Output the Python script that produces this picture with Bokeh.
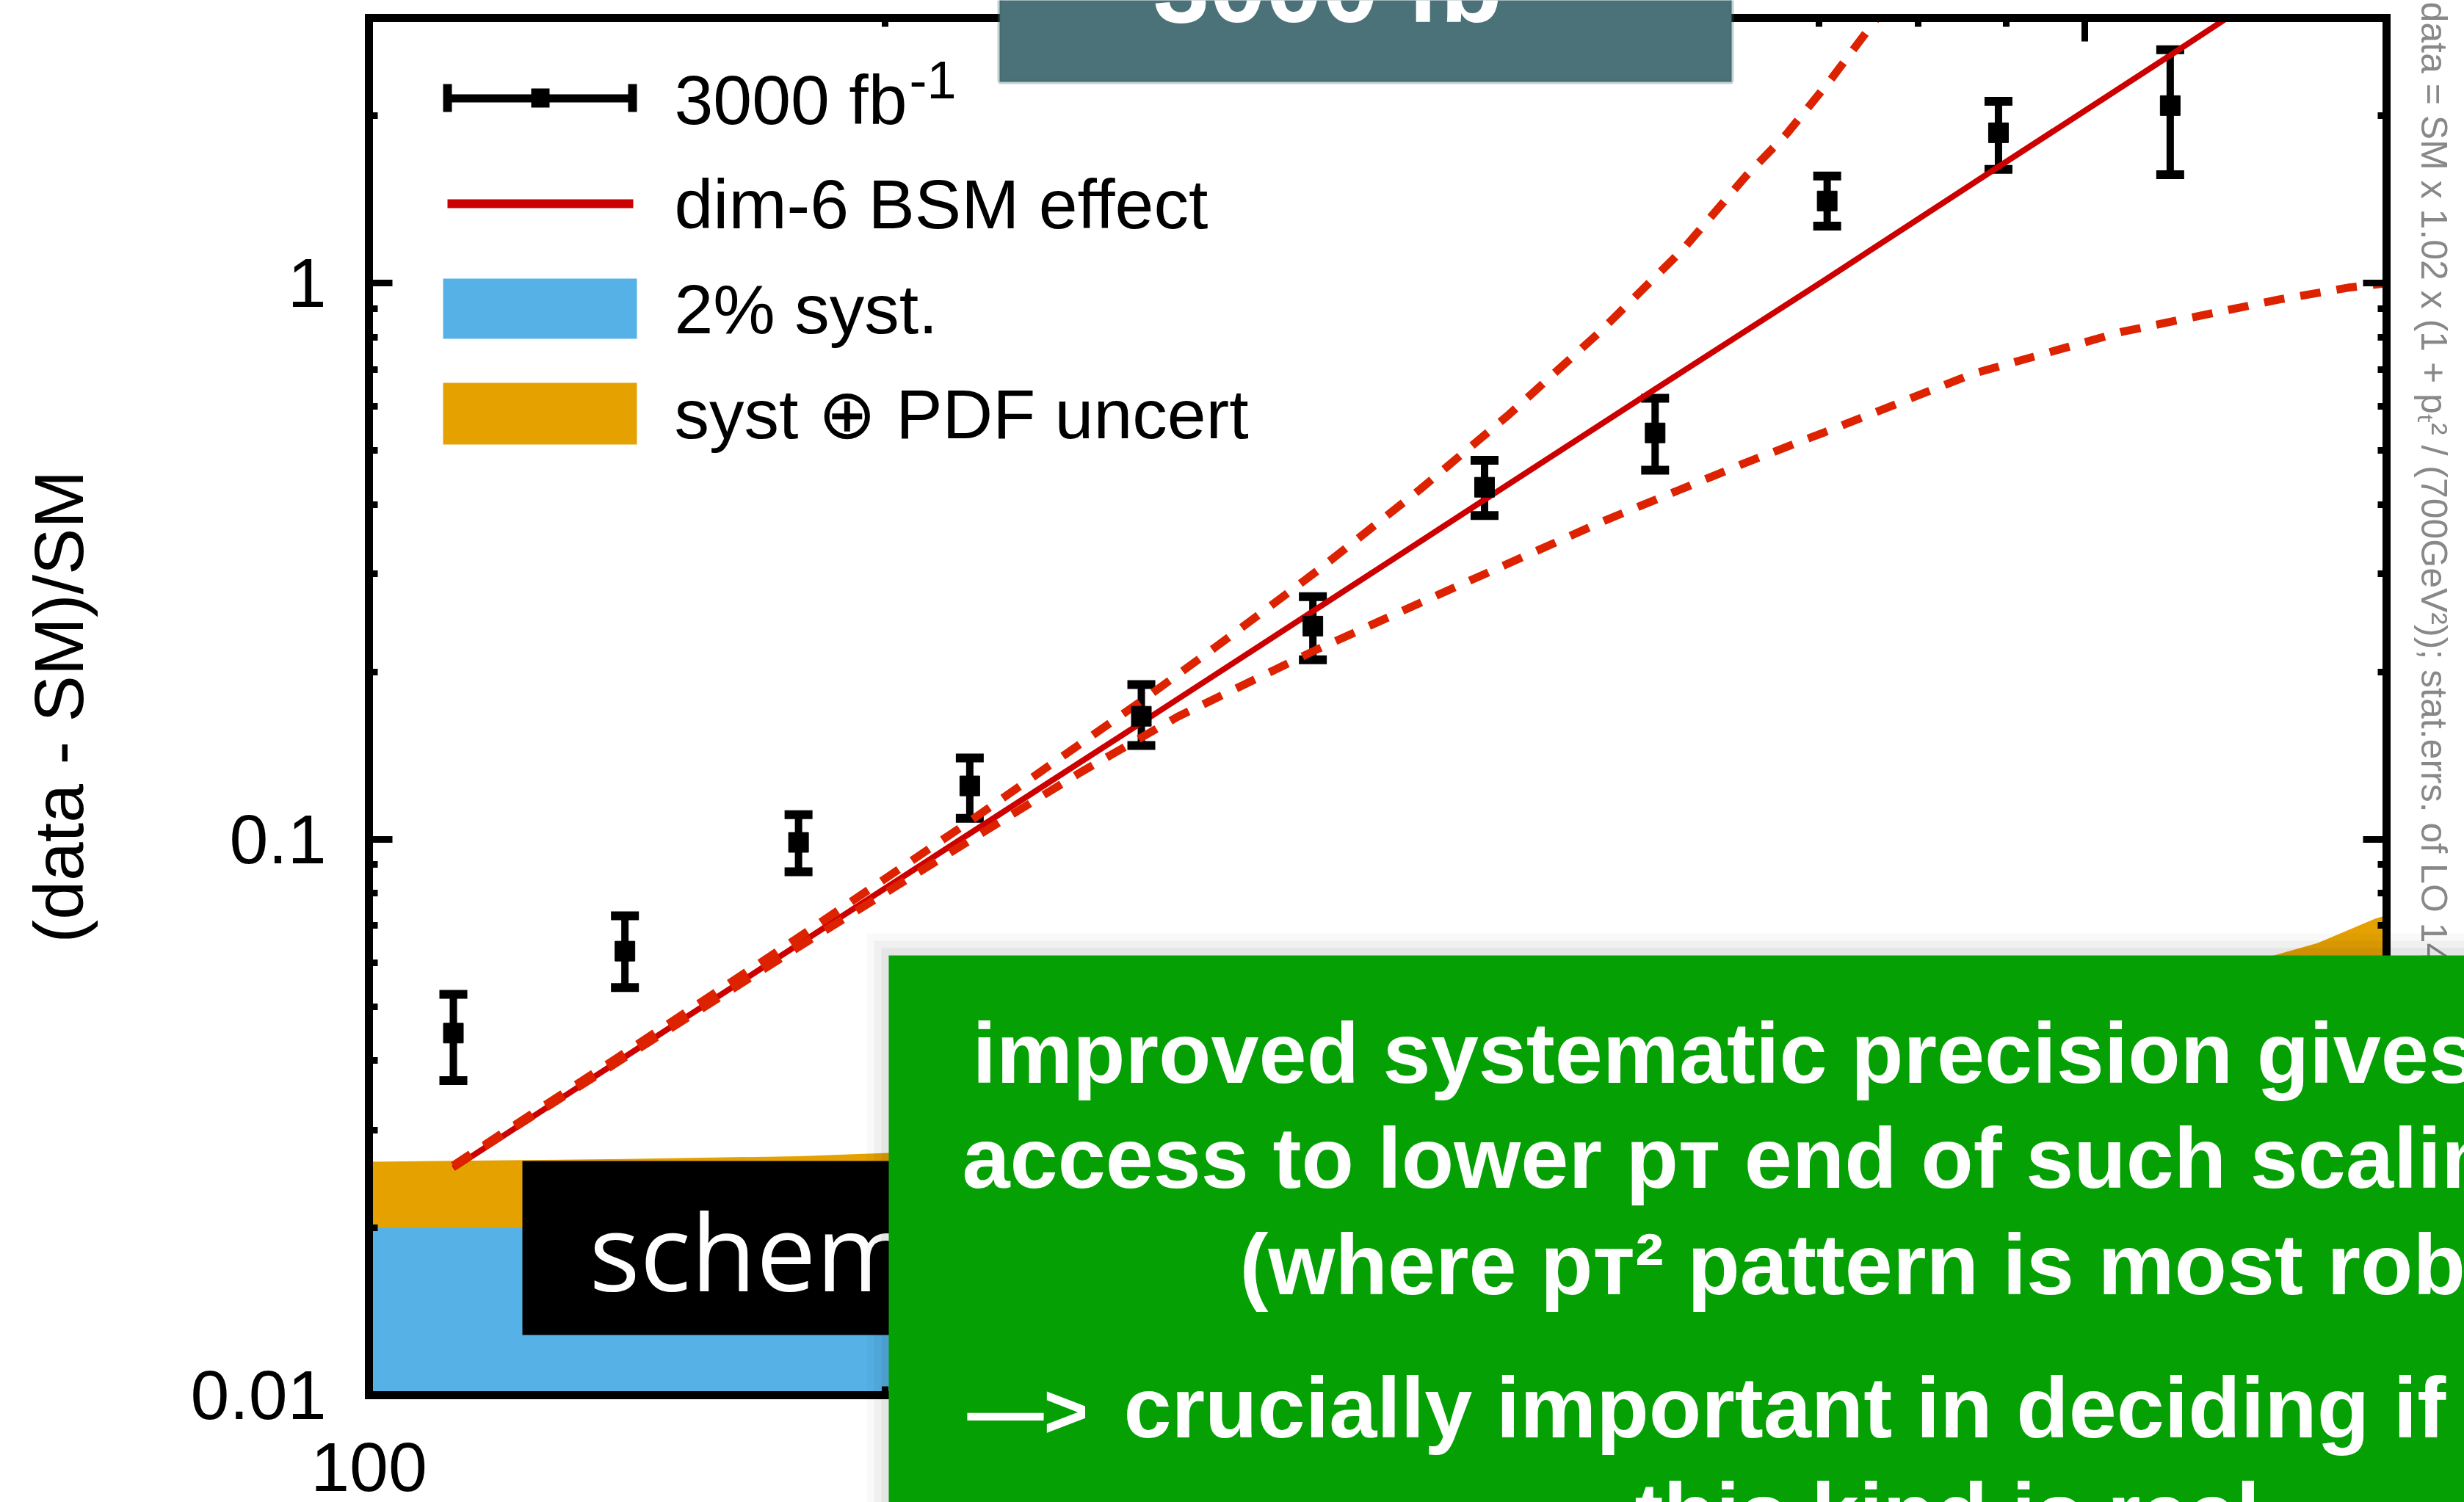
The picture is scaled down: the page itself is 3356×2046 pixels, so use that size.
import math
from bokeh.plotting import figure
from bokeh.models import (FixedTicker, LogAxis, BoxAnnotation, Label, Whisker,
                          TeeHead, ColumnDataSource, Range1d, LogScale)
from bokeh.embed import file_html
from bokeh.resources import INLINE

# ---------------- data ----------------
pt_bins = [112, 141, 178, 224, 282, 355, 447, 562, 708, 891, 1122]
ratio = [0.0448, 0.0629, 0.0987, 0.1247, 0.1664, 0.2417, 0.4296, 0.538, 1.406, 1.865, 2.087]
ratio_lo = [0.0368, 0.0541, 0.0874, 0.109, 0.1474, 0.2103, 0.382, 0.461, 1.267, 1.602, 1.567]
ratio_hi = [0.0526, 0.0728, 0.1107, 0.140, 0.1897, 0.2731, 0.4805, 0.621, 1.559, 2.125, 2.63]

bsm_pt = [112, 141, 178, 224, 282, 355, 447, 562, 708, 891, 1122, 1211]
bsm_ratio = [0.0256, 0.0406, 0.0647, 0.1024, 0.162, 0.257, 0.408, 0.645, 1.02, 1.62, 2.57, 3.0]

upper_pt = [112, 141, 178, 224, 282, 313, 357, 410, 462, 521, 583, 635, 671, 711, 757]
upper_ratio = [0.0259, 0.0413, 0.0666, 0.1077, 0.1772, 0.224, 0.3037, 0.426, 0.581, 0.814,
               1.148, 1.56, 1.861, 2.319, 3.0]

lower_pt = [112, 141, 178, 224, 260, 296, 357, 433, 525, 633, 706, 862, 1052, 1299, 1425, 1500]
lower_ratio = [0.0258, 0.0405, 0.064, 0.0995, 0.132, 0.166, 0.2195, 0.287, 0.374, 0.474, 0.54,
               0.688, 0.818, 0.935, 0.982, 1.0]

band_pt = [100, 112, 141, 178, 224, 282, 355, 447, 562, 708, 891, 1122, 1285, 1367, 1476, 1500]
syst_top = [0.02, 0.02, 0.02, 0.02, 0.02, 0.02, 0.02, 0.02, 0.02, 0.02, 0.02, 0.02, 0.02, 0.02, 0.02, 0.02]
pdf_top = [0.0263, 0.0264, 0.0266, 0.0269, 0.0276, 0.0285, 0.0298, 0.0318, 0.0345, 0.0385, 0.044,
           0.052, 0.0616, 0.065, 0.0719, 0.073]

x_ticks = [100, 1000]
x_tick_labels = ["100", "1000"]
x_minor = [200, 300, 400, 500, 600, 700, 800, 900]
y_ticks = [0.01, 0.1, 1]
y_tick_labels = ["0.01", "0.1", "1"]
y_minor = [0.02, 0.03, 0.04, 0.05, 0.06, 0.07, 0.08, 0.09,
           0.2, 0.3, 0.4, 0.5, 0.6, 0.7, 0.8, 0.9, 2, 3]

legend_labels = ["3000 fb", "dim-6 BSM effect", "2% syst.", "syst \u2295 PDF uncert"]

# ---------------- layout ----------------
W, H = 3356, 2046
FL, FR, FT, FB = 502, 3250, 24, 1900     # chart box edges on the canvas (px)
XLO, XHI, YLO, YHI = 100, 1500, 0.01, 3
LX = math.log10(XHI / XLO)
LY = math.log10(YHI / YLO)
K = 0.36                                 # baseline correction (fraction of font size)

RED = "#cc0000"
DRED = "#dd2200"
BLUE = "#56b2e6"
ORANGE = "#e4a100"
GREEN = "#04a004"
TEAL = "#4a7278"


def X(c):
    """canvas px -> data x"""
    return 10 ** (math.log10(XLO) + (c - FL) / (FR - FL) * LX)


def Y(c):
    """canvas px (from top) -> data y"""
    return 10 ** (math.log10(YLO) + (FB - c) / (FB - FT) * LY)


p = figure(width=W, height=H, x_axis_type="log", y_axis_type="log",
           x_axis_location=None, y_axis_location=None,
           x_range=Range1d(X(0), X(W)), y_range=Range1d(Y(H), Y(0)),
           output_backend="svg", toolbar_location=None,
           min_border=0, min_border_left=0, min_border_right=0,
           min_border_top=0, min_border_bottom=0)
p.x_scale = LogScale()
p.y_scale = LogScale()
p.grid.visible = False
p.outline_line_color = None
p.background_fill_color = "white"
p.border_fill_color = "white"

ax_b = LogAxis(fixed_location=YLO, bounds=(XLO, XHI))
ax_t = LogAxis(fixed_location=YHI, bounds=(XLO, XHI))
ax_l = LogAxis(fixed_location=XLO, bounds=(YLO, YHI))
ax_r = LogAxis(fixed_location=XHI, bounds=(YLO, YHI))
p.add_layout(ax_b, "below")
p.add_layout(ax_t, "above")
p.add_layout(ax_l, "left")
p.add_layout(ax_r, "right")

for ax in (ax_b, ax_t):
    ax.ticker = FixedTicker(ticks=x_ticks, minor_ticks=x_minor)
    ax.major_label_overrides = dict(zip(x_ticks, x_tick_labels))
for ax in (ax_l, ax_r):
    ax.ticker = FixedTicker(ticks=y_ticks, minor_ticks=y_minor)
    ax.major_label_overrides = dict(zip(y_ticks, y_tick_labels))

for ax in (ax_b, ax_t, ax_l, ax_r):
    ax.axis_line_width = 11
    ax.axis_line_color = "black"
    ax.axis_line_cap = "square"
    ax.major_tick_in = 32
    ax.major_tick_out = 0
    ax.minor_tick_in = 12
    ax.minor_tick_out = 0
    ax.major_tick_line_width = 9
    ax.minor_tick_line_width = 9
    ax.major_tick_line_color = "black"
    ax.minor_tick_line_color = "black"
    ax.major_label_text_font = "Liberation Sans"
    ax.major_label_text_font_size = "95px"
    ax.major_label_text_color = "black"

for ax in (ax_t, ax_r):
    ax.major_label_text_font_size = "1px"
    ax.major_label_text_alpha = 0
    ax.major_label_standoff = 0

ax_l.major_label_standoff = 58
ax_l.axis_label = "(data - SM)/SM"
ax_l.axis_label_text_font = "Liberation Sans"
ax_l.axis_label_text_font_size = "95px"
ax_l.axis_label_text_font_style = "normal"
ax_l.axis_label_text_color = "black"
ax_l.axis_label_standoff = 124

ax_b.major_label_standoff = 65

# ---------------- data glyphs ----------------
p.varea(x=band_pt, y1=YLO, y2=pdf_top, fill_color=ORANGE)
p.varea(x=band_pt, y1=YLO, y2=syst_top, fill_color=BLUE)

p.line(bsm_pt, bsm_ratio, line_color=RED, line_width=8)
p.line(upper_pt, upper_ratio, line_color=DRED, line_width=11, line_dash="28 22")
p.line(lower_pt, lower_ratio, line_color=DRED, line_width=11, line_dash="28 22")

src = ColumnDataSource(dict(pt=pt_bins, ratio=ratio, lo=ratio_lo, hi=ratio_hi))
p.scatter(x="pt", y="ratio", source=src, marker="square", size=27, color="black")
p.add_layout(Whisker(source=src, base="pt", lower="lo", upper="hi", dimension="height",
                     line_width=10, line_color="black",
                     upper_head=TeeHead(size=38, line_width=12, line_color="black"),
                     lower_head=TeeHead(size=38, line_width=12, line_color="black")))


def box(l, t, r, b, color, alpha=1.0, line=None, lw=0):
    p.add_layout(BoxAnnotation(left=X(l), right=X(r), top=Y(t), bottom=Y(b),
                               fill_color=color, fill_alpha=alpha,
                               line_color=line, line_width=lw))


def text(x, base, s, size, color="black", font="Liberation Sans", style="normal",
         rotated=False):
    if rotated:   # reads top-to-bottom, baseline at x
        lx, ly, ang = X(x + K * size), Y(base), -math.pi / 2
    else:
        lx, ly, ang = X(x), Y(base - K * size), 0.0
    p.add_layout(Label(x=lx, y=ly, text=s, text_font=font,
                       text_font_size=f"{size}px", text_font_style=style,
                       text_color=color, angle=ang, text_align="left",
                       text_baseline="alphabetic"))


# ---------------- legend ----------------
box(609, 128, 861, 139, "black")
box(603, 114, 615, 152, "black")
box(855, 114, 867, 152, "black")
box(723, 120, 748, 146, "black")
box(609, 271, 862, 283, RED)
box(603, 379, 867, 461, BLUE)
box(603, 521, 867, 605, ORANGE)
for lab, base in zip(legend_labels, [170, 312, 455, 598]):
    text(918, base, lab, 95)
text(1238, 134, "-1", 72)

# right-hand rotated note
text(3296, 2, "data = SM x 1.02 x (1 + p\u209c\u00b2 / (700GeV\u00b2)); stat.errs. of LO 14 TeV",
     50, color="#888888", rotated=True)

# ---------------- slide overlays ----------------
box(711, 1581, 1215, 1818, "black")
text(802, 1754, "schematic", 145, color="white", font="Open Sans")

for d, a in ((30, 0.025), (20, 0.035), (10, 0.045)):
    box(1210 - d, 1301 - d, 3400, 2100, "black", alpha=a)
box(1210, 1301, 3400, 2100, GREEN)

gfs = 117
text(1324, 1476, "improved systematic precision gives", gfs, "white", style="bold")
text(1310, 1619, "access to lower p\u1d1b end of such scaling", gfs, "white", style="bold")
text(1688, 1764, "(where p\u1d1b\u00b2 pattern is most robust)", gfs, "white", style="bold")
text(1317, 1959, "\u2014>", 104, "white", style="bold")
text(1530, 1959, "crucially important in deciding if", gfs, "white", style="bold")
text(2226, 2103, "this kind is real", gfs, "white", style="bold")

box(1361, -60, 2358, 111, TEAL, line="#3f6268", lw=6)
text(1570, 31, "3000 fb\u207b\u00b9", 138, "white", style="bold")

open("out.html", "w").write(file_html(p, INLINE))
